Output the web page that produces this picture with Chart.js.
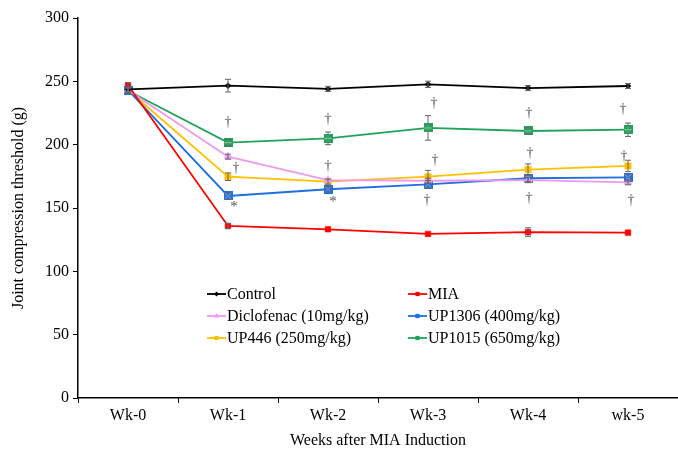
<!DOCTYPE html>
<html>
<head>
<meta charset="utf-8">
<script src="https://cdn.jsdelivr.net/npm/chart.js@4.4.0/dist/chart.umd.min.js"></script>
<style>
  body { margin: 0; background: #fff; }
  #wrap { width: 678px; height: 454px; }
</style>
</head>
<body>
<div id="wrap"><canvas id="chart"></canvas></div>
<script>
// values
const weeks = ['Wk-0', 'Wk-1', 'Wk-2', 'Wk-3', 'Wk-4', 'wk-5'];

const control = [243.7, 246.6, 244.0, 247.6, 244.7, 246.3];
const controlErr = [2, 5, 2, 2.5, 2, 2];

const mia = [246.9, 135.8, 133.2, 129.5, 131.0, 130.5];
const miaErr = [2, 2, 1.5, 1.5, 3.4, 1.5];

const diclofenac = [243.0, 190.5, 172.0, 171.5, 172.0, 170.3];
const diclofenacErr = [2, 2, 1.5, 2, 2, 2];

const up1306 = [243.0, 159.5, 164.8, 168.7, 173.5, 174.2];
const up1306Err = [2, 2.5, 2, 3, 2.5, 3];

const up446 = [243.0, 174.7, 170.8, 174.7, 180.3, 183.2];
const up446Err = [2, 3, 2, 5, 4.5, 4.5];

const up1015 = [242.6, 201.6, 205.0, 213.2, 210.8, 211.8];
const up1015Err = [2, 2.5, 5, 9.7, 2.5, 5.3];

// significance symbols: week index, value, symbol
const sigWeek  = [1, 1, 1, 2, 2, 2, 3, 3, 3, 4, 4, 4, 5, 5, 5];
const sigValue = [218, 181.6, 151, 220.3, 183, 154.7, 233, 188, 156, 225, 193, 157.6, 228, 191, 156];
const sigText  = ['†', '†', '*', '†', '†', '*', '†', '†', '†', '†', '†', '†', '†', '†', '†'];
const sigShift = [0, 0.08, 0.06, 0, 0, 0.05, 0.06, 0.07, -0.01, 0.01, 0.02, 0.01, -0.05, -0.04, 0.03];

const SERIF = '"Liberation Serif", "Times New Roman", serif';

// little square markers with an x or + drawn over them
function boxMarker(fill, mark) {
  const c = document.createElement('canvas');
  c.width = 9; c.height = 9;
  const g = c.getContext('2d');
  g.fillStyle = fill;
  g.fillRect(0, 0, 9, 9);
  g.strokeStyle = 'rgba(255,255,255,0.55)';
  g.lineWidth = 1;
  g.beginPath();
  if (mark === 'x') {
    g.moveTo(1.5, 1.5); g.lineTo(7.5, 7.5);
    g.moveTo(7.5, 1.5); g.lineTo(1.5, 7.5);
  } else {
    g.moveTo(4.5, 1); g.lineTo(4.5, 8);
    g.moveTo(1, 4.5); g.lineTo(8, 4.5);
  }
  g.stroke();
  return c;
}

const series = [
  { label: 'Control', data: control, err: controlErr, color: '#000000', style: 'rectRot', r: 3 },
  { label: 'MIA', data: mia, err: miaErr, color: '#FF0000', style: 'rect', r: 4 },
  { label: 'Diclofenac (10mg/kg)', data: diclofenac, err: diclofenacErr, color: '#EE99EE', style: 'triangle', r: 4.5 },
  { label: 'UP1306 (400mg/kg)', data: up1306, err: up1306Err, color: '#1F6FE0', style: boxMarker('#1F6FE0', 'x'), r: 4.5 },
  { label: 'UP446 (250mg/kg)', data: up446, err: up446Err, color: '#FFC000', style: 'rect', r: 4.5 },
  { label: 'UP1015 (650mg/kg)', data: up1015, err: up1015Err, color: '#1FA35A', style: boxMarker('#1FA35A', '+'), r: 4.5 }
];

const errorBars = {
  id: 'errorBars',
  afterDatasetsDraw(chart) {
    const ctx = chart.ctx;
    const y = chart.scales.y;
    ctx.save();
    ctx.strokeStyle = '#666';
    ctx.lineWidth = 1;
    chart.data.datasets.forEach((ds, i) => {
      const meta = chart.getDatasetMeta(i);
      meta.data.forEach((pt, j) => {
        const e = ds.err[j];
        const top = y.getPixelForValue(ds.data[j] + e);
        const bot = y.getPixelForValue(ds.data[j] - e);
        if (bot - top < 4) return;
        ctx.beginPath();
        ctx.moveTo(pt.x, top); ctx.lineTo(pt.x, bot);
        ctx.moveTo(pt.x - 3, top); ctx.lineTo(pt.x + 3, top);
        ctx.moveTo(pt.x - 3, bot); ctx.lineTo(pt.x + 3, bot);
        ctx.stroke();
      });
    });
    ctx.restore();
  }
};

const sigMarks = {
  id: 'sigMarks',
  afterDatasetsDraw(chart) {
    const ctx = chart.ctx;
    const xs = chart.scales.x, ys = chart.scales.y;
    const step = xs.getPixelForValue(1) - xs.getPixelForValue(0);
    ctx.save();
    ctx.fillStyle = '#555';
    ctx.textAlign = 'center';
    ctx.textBaseline = 'middle';
    for (let i = 0; i < sigWeek.length; i++) {
      ctx.font = (sigText[i] === '*' ? '15px ' : '14px ') + SERIF;
      const px = xs.getPixelForValue(sigWeek[i]) + sigShift[i] * step;
      ctx.fillText(sigText[i], px, ys.getPixelForValue(sigValue[i]));
    }
    ctx.restore();
  }
};

// legend drawn inside the plot, two columns
const innerLegend = {
  id: 'innerLegend',
  afterDraw(chart) {
    const ctx = chart.ctx;
    const colX = [207, 408];
    const rowY = [294, 316, 338];
    ctx.save();
    ctx.font = '16px ' + SERIF;
    ctx.textBaseline = 'middle';
    chart.data.datasets.forEach((ds, i) => {
      const x = colX[i % 2], y = rowY[Math.floor(i / 2)];
      ctx.strokeStyle = ds.borderColor;
      ctx.lineWidth = 1.8;
      ctx.beginPath(); ctx.moveTo(x, y); ctx.lineTo(x + 19, y); ctx.stroke();
      ctx.fillStyle = ds.pointBackgroundColor;
      Chart.helpers.drawPoint(ctx, {
        pointStyle: typeof ds.pointStyle === 'string' ? ds.pointStyle : 'rect',
        radius: ds.pointStyle === 'rectRot' ? 2.5 : 3, rotation: 0, borderWidth: 0
      }, x + 9.5, y);
      ctx.fillStyle = '#000';
      ctx.fillText(ds.label, x + 20, y + 1);
    });
    ctx.restore();
  }
};

new Chart(document.getElementById('chart'), {
  type: 'line',
  data: {
    labels: weeks,
    datasets: series.map(s => ({
      label: s.label,
      data: s.data,
      err: s.err,
      borderColor: s.color,
      backgroundColor: s.color,
      pointBackgroundColor: s.color,
      pointBorderColor: s.color,
      pointBorderWidth: 0.5,
      pointStyle: s.style,
      pointRadius: s.r,
      borderWidth: 1.8,
      tension: 0
    }))
  },
  options: {
    responsive: true,
    maintainAspectRatio: false,
    animation: false,
    layout: { autoPadding: false, padding: { top: 18, right: 0, left: 0, bottom: 0 } },
    plugins: { legend: { display: false }, tooltip: { enabled: false } },
    scales: {
      x: {
        offset: true,
        afterFit: s => { s.height = 56; s.paddingLeft = 0; s.paddingRight = 0; },
        grid: { display: true, drawOnChartArea: false, offset: true, tickLength: 5, color: '#000' },
        border: { color: '#000', width: 1.5 },
        ticks: { color: '#000', font: { family: SERIF, size: 16 }, padding: 3 },
        title: { display: true, text: 'Weeks after MIA Induction', color: '#000', font: { family: SERIF, size: 16 }, padding: { top: 4, bottom: 4 } }
      },
      y: {
        min: 0, max: 300,
        afterFit: s => { s.width = 78; },
        grid: { display: true, drawOnChartArea: false, tickLength: 5, color: '#000' },
        border: { color: '#000', width: 1.5 },
        ticks: { stepSize: 50, color: '#000', font: { family: SERIF, size: 16 }, padding: 4 },
        title: { display: true, text: 'Joint compression threshold (g)', color: '#000', font: { family: SERIF, size: 16 }, padding: { top: 9, bottom: 0 } }
      }
    }
  },
  plugins: [errorBars, sigMarks, innerLegend]
});
</script>
</body>
</html>
